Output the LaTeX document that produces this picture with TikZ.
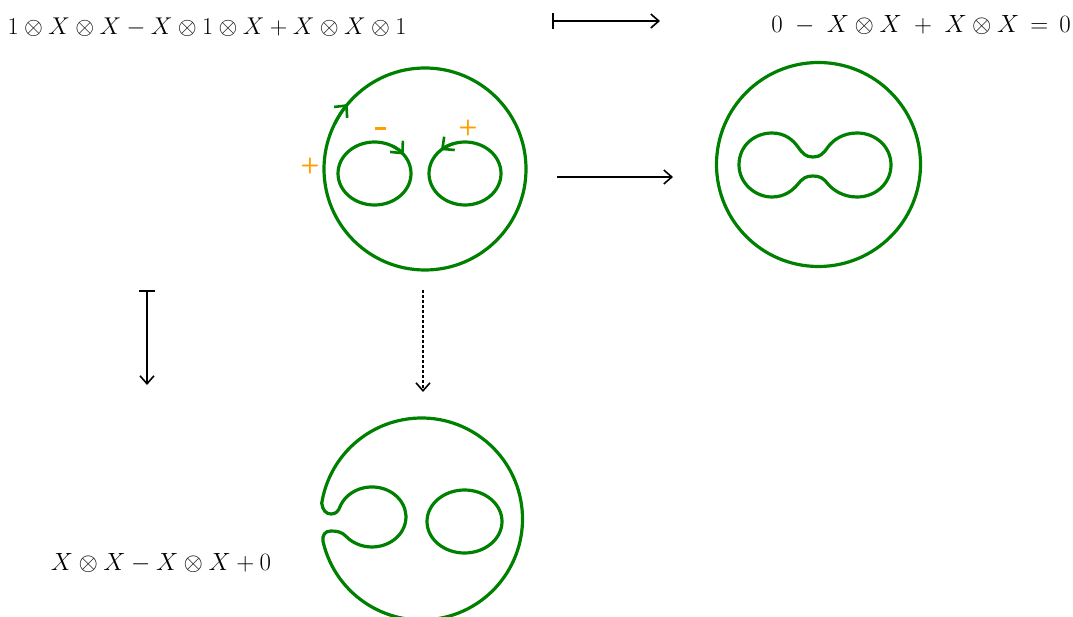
\documentclass[tikz,border=0pt]{standalone}
\usetikzlibrary{arrows.meta}
\definecolor{kgreen}{RGB}{0,128,0}
\definecolor{korange}{RGB}{255,160,0}
\begin{document}
\begin{tikzpicture}[x=1pt,y=1pt,
  curve/.style={draw=kgreen,line width=3.2pt},
  mapto/.style={line width=1.6pt,{Bar[width=16pt]}-{Straight Barb[length=8pt,width=14pt,line width=1.6pt]}},
  toarrow/.style={line width=1.6pt,-{Straight Barb[length=8pt,width=14pt,line width=1.6pt]}},
  flowtip/.style={draw=kgreen,line width=3pt,-{Straight Barb[length=9pt,width=17pt,line width=2.6pt]}},
  formula/.style={font=\fontsize{23}{28}\selectfont,inner sep=0pt},
  sign/.style={text=korange,font=\fontsize{22}{24}\selectfont\bfseries\sffamily,inner sep=0pt}]
\useasboundingbox (0,0) rectangle (1073,-617);

% formulas
\node[formula] (t1) at (207,-27) {\scalebox{0.975}{$1\otimes X\otimes X - X\otimes 1\otimes X + X\otimes X\otimes 1$}};
\node[formula] (t2) at (921,-25) {$0 \;-\; X\otimes X \;+\; X\otimes X \,=\, 0$};
\node[formula] (t3) at (161,-563) {$X\otimes X - X\otimes X + 0$};

% arrows
\coordinate (a1s) at (552,-21); \coordinate (a1e) at (660,-21);
\coordinate (a2s) at (557,-177); \coordinate (a2e) at (673,-177);
\coordinate (a3s) at (147,-290); \coordinate (a3e) at (147,-385);
\coordinate (a4s) at (423,-290); \coordinate (a4e) at (423,-392);
\draw[mapto] (a1s) -- (a1e);
\draw[toarrow] (a2s) -- (a2e);
\draw[mapto] (a3s) -- (a3e);
\draw[toarrow,densely dashed] (a4s) -- (a4e);

% first diagram
\coordinate (c1) at (425,-169);
\draw[curve] (c1) circle (101);
\coordinate (l1) at (374.5,-173.5);
\coordinate (r1) at (465,-173.5);
\draw[curve] (l1) ellipse (36.5 and 31.5);
\draw[curve] (r1) ellipse (36 and 31.5);
\draw[flowtip] (c1) ++(154:101) arc (154:140:101);
\draw[flowtip] (l1) ++(60:36.5 and 31.5) arc[start angle=60,end angle=37,x radius=36.5,y radius=31.5];
\draw[flowtip] (r1) ++(110:36 and 31.5) arc[start angle=110,end angle=132,x radius=36,y radius=31.5];
\node[sign] (p1) at (310,-166) {+};
\node[sign] (m1) at (380,-129) {\rule{11pt}{3pt}};
\node[sign] (p2) at (468,-128) {+};

% second diagram
\coordinate (c2) at (818.5,-164.5);
\draw[curve] (c2) circle (102);
\draw[curve] (739,-165) .. controls (739,-145) and (755,-133) .. (772,-133)
  .. controls (785,-133) and (793,-140) .. (798,-147)
  .. controls (803,-154) and (806,-157) .. (813,-157)
  .. controls (820,-157) and (823,-154) .. (828,-147)
  .. controls (833,-140) and (843,-133) .. (857,-133)
  .. controls (876,-133) and (891,-147) .. (891,-165)
  .. controls (891,-183) and (876,-197) .. (857,-197)
  .. controls (843,-197) and (833,-190) .. (828,-184)
  .. controls (823,-178) and (820,-176) .. (813,-176)
  .. controls (806,-176) and (803,-178) .. (798,-184)
  .. controls (793,-190) and (785,-197) .. (772,-197)
  .. controls (755,-197) and (739,-183) .. cycle;

% third diagram
\coordinate (c3) at (421.5,-519);
\coordinate (r3) at (464.5,-521.5);
\draw[curve] (c3) ++(193:101) arc (193:531:101)
  .. controls (322.5,-510) and (326,-514) .. (331,-514)
  .. controls (336,-514) and (338.5,-511) .. (340,-506.7)
  arc[start angle=160,end angle=-140,x radius=34,y radius=30]
  .. controls (342,-532) and (337,-531) .. (331,-531)
  .. controls (325,-531) and (322,-535) .. cycle;
\draw[curve] (r3) ellipse (37.5 and 31.5);
\end{tikzpicture}
\end{document}
